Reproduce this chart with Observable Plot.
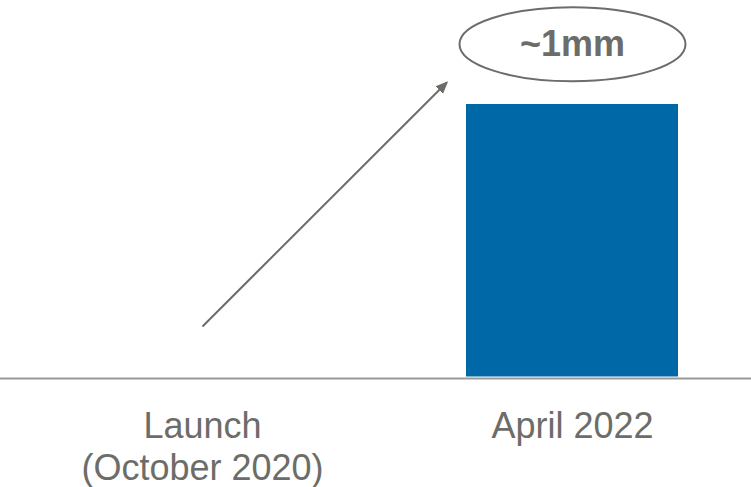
<!DOCTYPE html>
<html>
<head>
<meta charset="utf-8">
<script src="https://cdn.jsdelivr.net/npm/d3@7"></script>
<script src="https://cdn.jsdelivr.net/npm/@observablehq/plot@0.6"></script>
<style>
  html, body { margin: 0; padding: 0; background: #ffffff; }
  #chart svg { display: block; }
</style>
</head>
<body>
<div id="chart"></div>
<script>
// ---- data ----
const categories = ["Launch\n(October 2020)", "April 2022"];
const values = [0, 1];            // users, in millions (~1mm in April 2022)
const valueLabels = ["", "~1mm"];
// annotation (data space): growth arrow from launch toward the bar, callout above the bar
const arrowStart = [0, 0.19];
const arrowEnd = [0.66, 1.08];
const calloutY = 1.22;

const data = categories.map((c, i) => ({i, category: c, value: values[i], label: valueLabels[i]}));

const gray = "#6c6d68";
const barColor = "#0068a6";
const halfBar = 0.2865;

const ellipseSymbol = {
  draw(ctx) {
    const rx = 113, ry = 37, k = 0.5523;
    ctx.moveTo(rx, 0);
    ctx.bezierCurveTo(rx, ry * k, rx * k, ry, 0, ry);
    ctx.bezierCurveTo(-rx * k, ry, -rx, ry * k, -rx, 0);
    ctx.bezierCurveTo(-rx, -ry * k, -rx * k, -ry, 0, -ry);
    ctx.bezierCurveTo(rx * k, -ry, rx, -ry * k, rx, 0);
    ctx.closePath();
  }
};

function triangleMarker(color, context) {
  const doc = (context && context.document) || document;
  const marker = doc.createElementNS("http://www.w3.org/2000/svg", "marker");
  marker.setAttribute("viewBox", "-10 -6 12 12");
  marker.setAttribute("markerWidth", 12);
  marker.setAttribute("markerHeight", 12);
  marker.setAttribute("markerUnits", "userSpaceOnUse");
  marker.setAttribute("orient", "auto");
  marker.setAttribute("refX", 0);
  marker.setAttribute("refY", 0);
  const p = doc.createElementNS("http://www.w3.org/2000/svg", "path");
  p.setAttribute("d", "M-12,-6L2,0L-12,6Z");
  p.setAttribute("fill", gray);
  p.setAttribute("stroke", "none");
  marker.appendChild(p);
  return marker;
}

const bars = data.filter(d => d.value > 0);

const chart = Plot.plot({
  width: 751,
  height: 487,
  marginLeft: 0,
  marginRight: 0,
  marginTop: 0,
  marginBottom: 0,
  style: {fontFamily: "'Liberation Sans', Arial, sans-serif", background: "#ffffff"},
  x: {type: "linear", domain: [0, 1], range: [202, 572], axis: null},
  y: {domain: [0, 1], range: [378, 104], axis: null},
  marks: [
    Plot.rectY(bars, {x1: d => d.i - halfBar, x2: d => d.i + halfBar, y1: 0, y2: "value", fill: barColor, insetBottom: 1.5}),
    Plot.ruleY([0], {stroke: "#999999", strokeWidth: 2}),
    Plot.text(data, {x: "i", y: 0, text: "category", fill: gray, fontSize: 36, lineAnchor: "top", lineHeight: 1.16, dy: 30, textAnchor: "middle"}),
    Plot.link([0], {x1: () => arrowStart[0], y1: () => arrowStart[1], x2: () => arrowEnd[0], y2: () => arrowEnd[1], stroke: gray, strokeWidth: 2, markerEnd: triangleMarker}),
    Plot.dot(bars, {x: "i", y: () => calloutY, symbol: ellipseSymbol, r: 10, fill: "#ffffff", stroke: gray, strokeWidth: 2}),
    Plot.text(bars, {x: "i", y: () => calloutY, text: "label", fill: gray, fontSize: 36, fontWeight: "bold", textAnchor: "middle", lineAnchor: "middle"})
  ]
});
document.getElementById("chart").appendChild(chart);
</script>
</body>
</html>
